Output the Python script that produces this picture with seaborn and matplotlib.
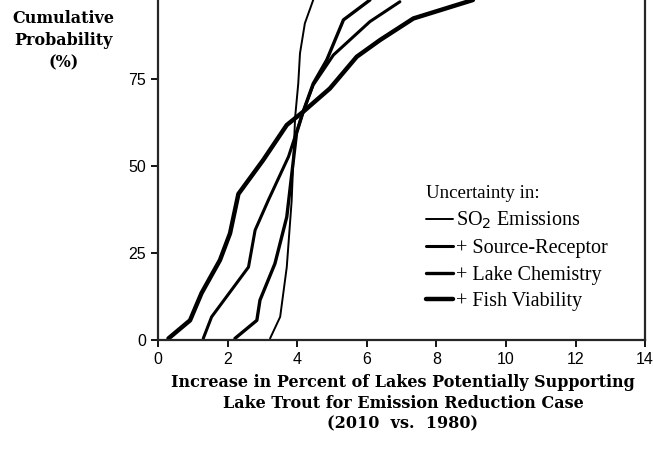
import numpy as np
import pandas as pd
import seaborn as sns
import matplotlib.pyplot as plt

# data (x = % increase, y = cumulative probability %)
so2_x = [3.22, 3.51, 3.70, 3.84, 3.94, 4.03, 4.08, 4.22, 4.46]
so2_y = [0.5, 6.7, 21, 40, 64, 73.7, 82.4, 91, 97.7]

src_x = [1.30, 1.54, 2.60, 2.79, 3.17, 3.75, 4.17, 4.46, 5.04, 6.09, 6.95]
src_y = [0.5, 6.7, 21, 31.6, 40.2, 52.7, 65.6, 73.3, 81.9, 91.5, 97.2]

lake_x = [2.21, 2.84, 2.93, 3.36, 3.70, 3.98, 4.17, 4.46, 4.85, 5.33, 6.09]
lake_y = [0.5, 5.7, 11.5, 22, 35.4, 59.4, 65.6, 73.7, 80.5, 92, 97.7]

fish_x = [0.30, 0.92, 1.25, 1.78, 2.07, 2.31, 3.02, 3.70, 4.17, 4.94, 5.71, 6.38, 7.34, 9.05]
fish_y = [0.5, 5.7, 13.5, 23, 30.7, 42, 51.7, 61.8, 65.6, 72.3, 81.4, 86.2, 92.4, 97.7]

labels = ['SO$_2$ Emissions', '+ Source-Receptor', '+ Lake Chemistry', '+ Fish Viability']
xticks = [0, 2, 4, 6, 8, 10, 12, 14]
yticks = [0, 25, 50, 75]

sns.set_style('ticks')
plt.rcParams['text.color'] = 'black'
serif = ['Liberation Serif', 'DejaVu Serif']
wide_serif = ['DejaVu Serif']
sans = ['Liberation Sans', 'DejaVu Sans']

fig = plt.figure(figsize=(6.53, 4.5), dpi=100)
ax = fig.add_axes([0.242, 0.244, 0.746, 0.756])

series = [(so2_x, so2_y, 1.4), (src_x, src_y, 2.2), (lake_x, lake_y, 2.4), (fish_x, fish_y, 3.2)]
for (xs, ys, lw), lab in zip(series, labels):
    df = pd.DataFrame({'x': xs, 'y': ys})
    sns.lineplot(data=df, x='x', y='y', sort=False, ax=ax, color='black', lw=lw, label=lab)

ax.set_xlim(0, 14)
ax.set_ylim(0, 97.7)
ax.set_xticks(xticks)
ax.set_yticks(yticks)
ax.set_xlabel('')
ax.set_ylabel('')
ax.spines['top'].set_visible(False)
for s in ['left', 'bottom', 'right']:
    ax.spines[s].set_linewidth(1.6)
ax.tick_params(direction='out', length=5, width=1.3, labelsize=11.5, colors='black')
for t in ax.get_xticklabels() + ax.get_yticklabels():
    t.set_family(sans)

leg = ax.legend(title='Uncertainty in:', loc='upper left', bbox_to_anchor=(0.53, 0.485),
                frameon=False, borderpad=0, handlelength=1.35, handletextpad=0.15,
                labelspacing=0.38, prop={'family': serif, 'size': 14.5})
leg.get_title().set_family(serif)
leg.get_title().set_fontsize(13.5)
leg._legend_box.align = 'left'

fig.text(0.097, 0.978, 'Cumulative\nProbability\n(%)', ha='center', va='top',
         family=wide_serif, weight='bold', fontsize=11.5, linespacing=1.42)
fig.text(0.617, 0.168, 'Increase in Percent of Lakes Potentially Supporting\n'
         'Lake Trout for Emission Reduction Case\n(2010  vs.  1980)',
         ha='center', va='top', family=wide_serif, weight='bold', fontsize=11.5, linespacing=1.25)

fig.savefig('out.png', dpi=100)
